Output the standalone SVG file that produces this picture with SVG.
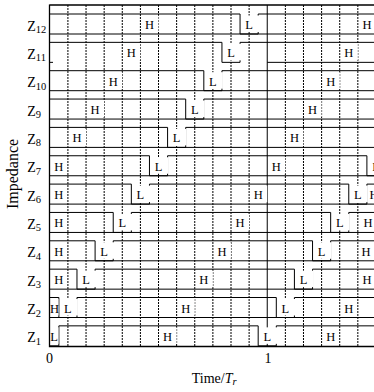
<svg xmlns="http://www.w3.org/2000/svg" width="374" height="392" viewBox="0 0 374 392">
<style>
.grid{stroke:#000;stroke-width:1;stroke-dasharray:2 1;fill:none}
.sig{stroke:#000;stroke-width:1;fill:none}
.base{stroke:#000;stroke-width:1;fill:none}
.frame{stroke:#000;stroke-width:1.3;fill:none}
.lb{font-family:"Liberation Serif","Times New Roman",serif;font-size:12.5px;fill:#000;text-anchor:middle}
.bx{fill:#fff}
.ax{font-family:"Liberation Serif","Times New Roman",serif;font-size:14px;fill:#000}
.sub{font-size:10.5px}
</style>
<rect width="374" height="392" fill="#fff"/>
<g id="grid">
<path class="grid" d="M67.92,5V346M86.04,5V346M104.16,5V346M122.28,5V346M140.4,5V346M158.52,5V346M176.64,5V346M194.76,5V346M212.88,5V346M231,5V346M249.12,5V346M285.36,5V346M303.48,5V346M321.6,5V346M339.72,5V346M357.84,5V346"/>
<path class="sig" d="M267.24,5V346"/>
</g>
<g id="connectors">
<path class="base" d="M49.5,34H374M49.5,62.35H53M267.24,62.35H374M49.5,90.7H374M49.5,119.05H374M49.5,147.4H374M49.5,175.75H374M49.5,204.1H374M49.5,232.45H374M49.5,260.8H374M49.5,289.15H374M49.5,317.5H374"/>
</g>
<g id="Z12"><path class="sig" d="M49.5,14H240.06V34H258.18V14H380"/></g>
<g id="Z11"><path class="sig" d="M49.5,42.35H221.94V62.35H240.06V42.35H380"/></g>
<g id="Z10"><path class="sig" d="M49.5,70.7H203.82V90.7H221.94V70.7H380"/></g>
<g id="Z9"><path class="sig" d="M49.5,99.05H185.7V119.05H203.82V99.05H380"/></g>
<g id="Z8"><path class="sig" d="M49.5,127.4H167.58V147.4H185.7V127.4H380"/></g>
<g id="Z7"><path class="sig" d="M49.5,155.75H149.46V175.75H167.58V155.75H366.9V175.75H380"/></g>
<g id="Z6"><path class="sig" d="M49.5,184.1H131.34V204.1H149.46V184.1H348.78V204.1H366.9V184.1H380"/></g>
<g id="Z5"><path class="sig" d="M49.5,212.45H113.22V232.45H131.34V212.45H330.66V232.45H348.78V212.45H380"/></g>
<g id="Z4"><path class="sig" d="M49.5,240.8H95.1V260.8H113.22V240.8H312.54V260.8H330.66V240.8H380"/></g>
<g id="Z3"><path class="sig" d="M49.5,269.15H76.98V289.15H95.1V269.15H294.42V289.15H312.54V269.15H380"/></g>
<g id="Z2"><path class="sig" d="M49.5,297.5H58.86V317.5H76.98V297.5H276.3V317.5H294.42V297.5H380"/></g>
<g id="Z1"><path class="sig" d="M49.5,345.85H58.86V325.85H258.18V345.85H276.3V325.85H380"/></g>
<g id="labels">
<rect class="bx" x="143.5" y="15.5" width="15" height="16.5"/><text class="lb" x="149.46" y="29">H</text>
<rect class="bx" x="243.1" y="15.5" width="16" height="16.5"/><text class="lb" x="249.12" y="29">L</text>
<rect class="bx" x="360.9" y="15.5" width="15" height="16.5"/><text class="lb" x="366.9" y="29">H</text>
<rect class="bx" x="125.3" y="43.85" width="15" height="16.5"/><text class="lb" x="131.34" y="57.35">H</text>
<rect class="bx" x="225" y="43.85" width="16" height="16.5"/><text class="lb" x="231" y="57.35">L</text>
<rect class="bx" x="342.8" y="43.85" width="15" height="16.5"/><text class="lb" x="348.78" y="57.35">H</text>
<rect class="bx" x="107.2" y="72.2" width="15" height="16.5"/><text class="lb" x="113.22" y="85.7">H</text>
<rect class="bx" x="206.9" y="72.2" width="16" height="16.5"/><text class="lb" x="212.88" y="85.7">L</text>
<rect class="bx" x="324.7" y="72.2" width="15" height="16.5"/><text class="lb" x="330.66" y="85.7">H</text>
<rect class="bx" x="89.1" y="100.55" width="15" height="16.5"/><text class="lb" x="95.1" y="114.05">H</text>
<rect class="bx" x="188.8" y="100.55" width="16" height="16.5"/><text class="lb" x="194.76" y="114.05">L</text>
<rect class="bx" x="306.5" y="100.55" width="15" height="16.5"/><text class="lb" x="312.54" y="114.05">H</text>
<rect class="bx" x="71" y="128.9" width="15" height="16.5"/><text class="lb" x="76.98" y="142.4">H</text>
<rect class="bx" x="170.6" y="128.9" width="16" height="16.5"/><text class="lb" x="176.64" y="142.4">L</text>
<rect class="bx" x="288.4" y="128.9" width="15" height="16.5"/><text class="lb" x="294.42" y="142.4">H</text>
<rect class="bx" x="52.9" y="157.25" width="13" height="16.5"/><text class="lb" x="58.86" y="170.75">H</text>
<rect class="bx" x="152.5" y="157.25" width="16" height="16.5"/><text class="lb" x="158.52" y="170.75">L</text>
<rect class="bx" x="270.3" y="157.25" width="15" height="16.5"/><text class="lb" x="276.3" y="170.75">H</text>
<rect class="bx" x="370" y="157.25" width="16" height="16.5"/><text class="lb" x="375.96" y="170.75">L</text>
<rect class="bx" x="52.9" y="185.6" width="13" height="16.5"/><text class="lb" x="58.86" y="199.1">H</text>
<rect class="bx" x="134.4" y="185.6" width="16" height="16.5"/><text class="lb" x="140.4" y="199.1">L</text>
<rect class="bx" x="252.2" y="185.6" width="15" height="16.5"/><text class="lb" x="258.18" y="199.1">H</text>
<rect class="bx" x="351.8" y="185.6" width="16" height="16.5"/><text class="lb" x="357.84" y="199.1">L</text>
<rect class="bx" x="368" y="185.6" width="13" height="16.5"/><text class="lb" x="374" y="199.1">H</text>
<rect class="bx" x="52.9" y="213.95" width="13" height="16.5"/><text class="lb" x="58.86" y="227.45">H</text>
<rect class="bx" x="116.3" y="213.95" width="16" height="16.5"/><text class="lb" x="122.28" y="227.45">L</text>
<rect class="bx" x="234.1" y="213.95" width="15" height="16.5"/><text class="lb" x="240.06" y="227.45">H</text>
<rect class="bx" x="333.7" y="213.95" width="16" height="16.5"/><text class="lb" x="339.72" y="227.45">L</text>
<rect class="bx" x="362" y="213.95" width="13" height="16.5"/><text class="lb" x="368" y="227.45">H</text>
<rect class="bx" x="52.9" y="242.3" width="13" height="16.5"/><text class="lb" x="58.86" y="255.8">H</text>
<rect class="bx" x="98.2" y="242.3" width="16" height="16.5"/><text class="lb" x="104.16" y="255.8">L</text>
<rect class="bx" x="215.9" y="242.3" width="15" height="16.5"/><text class="lb" x="221.94" y="255.8">H</text>
<rect class="bx" x="315.6" y="242.3" width="16" height="16.5"/><text class="lb" x="321.6" y="255.8">L</text>
<rect class="bx" x="360" y="242.3" width="13" height="16.5"/><text class="lb" x="366" y="255.8">H</text>
<rect class="bx" x="52.9" y="270.65" width="13" height="16.5"/><text class="lb" x="58.86" y="284.15">H</text>
<rect class="bx" x="80" y="270.65" width="16" height="16.5"/><text class="lb" x="86.04" y="284.15">L</text>
<rect class="bx" x="197.8" y="270.65" width="15" height="16.5"/><text class="lb" x="203.82" y="284.15">H</text>
<rect class="bx" x="297.5" y="270.65" width="16" height="16.5"/><text class="lb" x="303.48" y="284.15">L</text>
<rect class="bx" x="360.9" y="270.65" width="13" height="16.5"/><text class="lb" x="366.9" y="284.15">H</text>
<rect class="bx" x="50" y="299" width="8.5" height="16.5"/><text class="lb" x="54.5" y="312.5">H</text>
<rect class="bx" x="61.9" y="299" width="16" height="16.5"/><text class="lb" x="67.92" y="312.5">L</text>
<rect class="bx" x="179.7" y="299" width="15" height="16.5"/><text class="lb" x="185.7" y="312.5">H</text>
<rect class="bx" x="279.4" y="299" width="16" height="16.5"/><text class="lb" x="285.36" y="312.5">L</text>
<rect class="bx" x="342.8" y="299" width="13" height="16.5"/><text class="lb" x="348.78" y="312.5">H</text>
<rect class="bx" x="50" y="327.35" width="8.5" height="16.5"/><text class="lb" x="54" y="340.85">L</text>
<rect class="bx" x="161.6" y="327.35" width="15" height="16.5"/><text class="lb" x="167.58" y="340.85">H</text>
<rect class="bx" x="261.2" y="327.35" width="16" height="16.5"/><text class="lb" x="267.24" y="340.85">L</text>
<rect class="bx" x="324.7" y="327.35" width="13" height="16.5"/><text class="lb" x="330.66" y="340.85">H</text>
</g>
<g id="frame">
<path class="frame" d="M49.5,5H374M49.5,4.5V346.5H374"/>
</g>
<g id="axes-text">
<text class="ax" x="27.3" y="30.5">Z<tspan class="sub" dy="2.5">12</tspan></text>
<text class="ax" x="27.3" y="58.85">Z<tspan class="sub" dy="2.5">11</tspan></text>
<text class="ax" x="27.3" y="87.2">Z<tspan class="sub" dy="2.5">10</tspan></text>
<text class="ax" x="27.3" y="115.55">Z<tspan class="sub" dy="2.5">9</tspan></text>
<text class="ax" x="27.3" y="143.9">Z<tspan class="sub" dy="2.5">8</tspan></text>
<text class="ax" x="27.3" y="172.25">Z<tspan class="sub" dy="2.5">7</tspan></text>
<text class="ax" x="27.3" y="200.6">Z<tspan class="sub" dy="2.5">6</tspan></text>
<text class="ax" x="27.3" y="228.95">Z<tspan class="sub" dy="2.5">5</tspan></text>
<text class="ax" x="27.3" y="257.3">Z<tspan class="sub" dy="2.5">4</tspan></text>
<text class="ax" x="27.3" y="285.65">Z<tspan class="sub" dy="2.5">3</tspan></text>
<text class="ax" x="27.3" y="314">Z<tspan class="sub" dy="2.5">2</tspan></text>
<text class="ax" x="27.3" y="342.35">Z<tspan class="sub" dy="2.5">1</tspan></text>
<text class="ax" x="49.5" y="363.3" text-anchor="middle">0</text>
<text class="ax" x="268" y="363.3" text-anchor="middle">1</text>
<text class="ax" x="191.7" y="382.7">Time/<tspan font-style="italic">T</tspan><tspan class="sub" font-style="italic" dy="2.5">r</tspan></text>
<text class="ax" transform="translate(17.5,174) rotate(-90)" text-anchor="middle" style="font-size:16px">Impedance</text>
</g>
</svg>
